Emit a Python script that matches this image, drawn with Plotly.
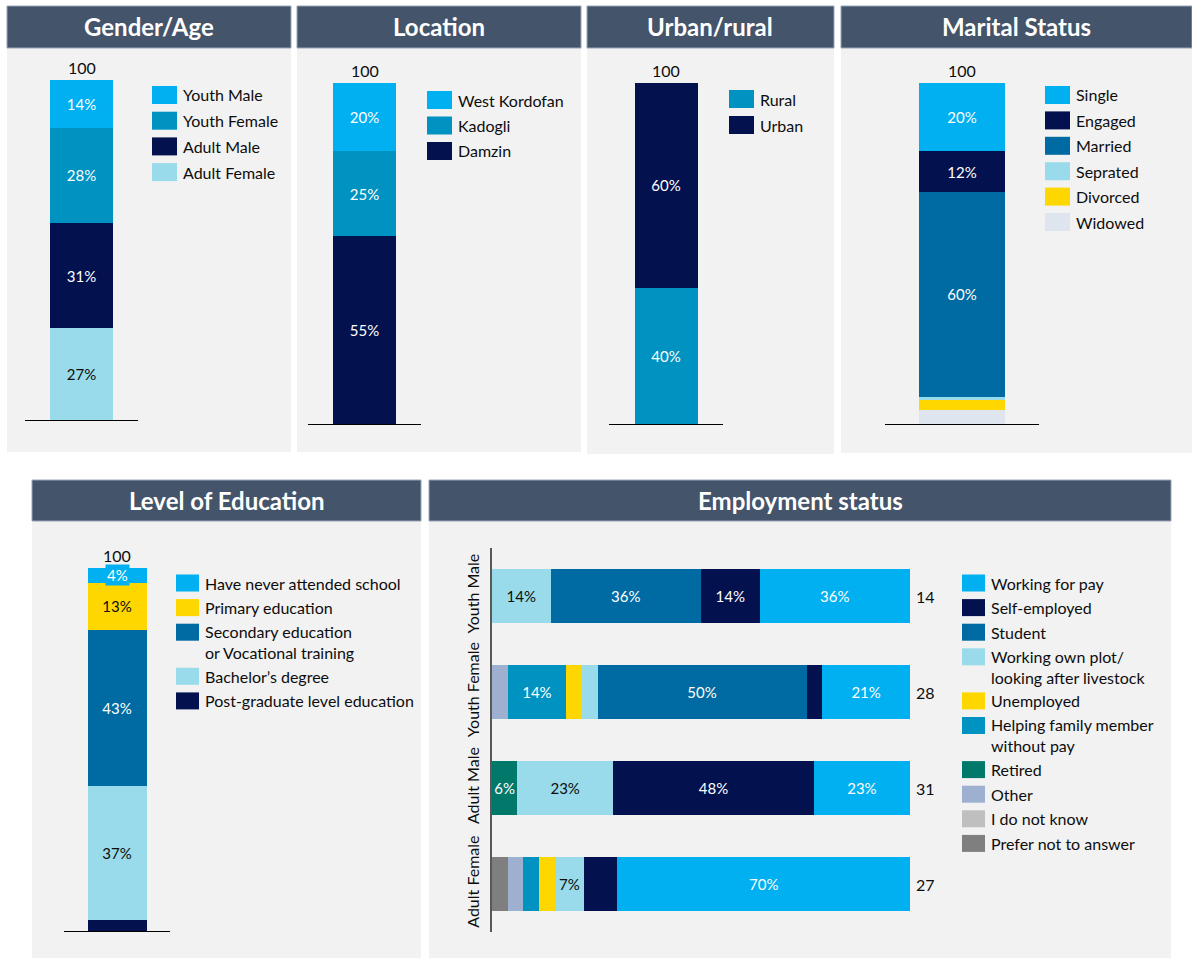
import plotly.graph_objects as go

# ---------------------------------------------------------------- data
gender_labels = ["Youth Male", "Youth Female", "Adult Male", "Adult Female"]
gender_values = [14, 28, 31, 27]

location_labels = ["West Kordofan", "Kadogli", "Damzin"]
location_values = [20, 25, 55]

area_labels = ["Rural", "Urban"]
area_values = [40, 60]

marital_labels = ["Single", "Engaged", "Married", "Seprated", "Divorced", "Widowed"]
marital_values = [20, 12, 60, 1, 3, 4]

education_labels = ["Have never attended school", "Primary education",
                    "Secondary education<br>or Vocational training",
                    "Bachelor’s degree", "Post-graduate level education"]
education_values = [4, 13, 43, 37, 3]

employment_groups = ["Youth Male", "Youth Female", "Adult Male", "Adult Female"]
employment_n = [14, 28, 31, 27]
# statuses in stacking order (left to right)
employment_status = ["Prefer not to answer", "I do not know", "Other", "Retired",
                     "Helping family member<br>without pay", "Unemployed",
                     "Working own plot/<br>looking after livestock", "Student",
                     "Self-employed", "Working for pay"]
employment_values = {
    "Prefer not to answer": [0, 0, 0, 3.75],
    "I do not know": [0, 0, 0, 0],
    "Other": [0, 3.75, 0, 3.75],
    "Retired": [0, 0, 6, 0],
    "Helping family member<br>without pay": [0, 14, 0, 3.75],
    "Unemployed": [0, 3.75, 0, 3.75],
    "Working own plot/<br>looking after livestock": [14, 3.75, 23, 7],
    "Student": [36, 50, 0, 0],
    "Self-employed": [14, 3.75, 48, 8],
    "Working for pay": [36, 21, 23, 70],
}
# segments that carry no percentage label
employment_unlabelled = {("Self-employed", "Adult Female")}

# ---------------------------------------------------------------- styling
W, H = 1192, 958
FONT = "Lato, 'Open Sans', sans-serif"
INK = "#0D0D0D"
HEADER = "#44546A"
BODY = "#F2F2F2"

SKY = "#00B0F0"
TEAL_BLUE = "#0092C0"
NAVY = "#03114F"
MID_BLUE = "#006AA3"
PALE_CYAN = "#99DBEA"
YELLOW = "#FFD700"
MIST = "#DEE5EF"
GREEN_TEAL = "#00796B"
LAVENDER = "#9DB0CF"
LIGHT_GREY = "#BFBFBF"
DARK_GREY = "#7F7F7F"

status_colors = {
    "Prefer not to answer": DARK_GREY,
    "I do not know": LIGHT_GREY,
    "Other": LAVENDER,
    "Retired": GREEN_TEAL,
    "Helping family member<br>without pay": TEAL_BLUE,
    "Unemployed": YELLOW,
    "Working own plot/<br>looking after livestock": PALE_CYAN,
    "Student": MID_BLUE,
    "Self-employed": NAVY,
    "Working for pay": SKY,
}
dark_text_fills = {PALE_CYAN, YELLOW, MIST, LIGHT_GREY}

LABEL_SIZE = 15
LEGEND_SIZE = 16


def fx(x):
    return x / W


def fy(y):
    return 1 - y / H


fig = go.Figure()
shapes = []
annotations = []
layout_axes = {}

# ---------------------------------------------------------------- panels
panels = [
    ("Gender/Age", 7, 291, 6, 48, 452),
    ("Location", 297, 581, 6, 48, 452),
    ("Urban/rural", 587, 834, 6, 48, 454),
    ("Marital Status", 841, 1192, 6, 48, 453),
    ("Level of Education", 32, 421, 480, 521, 958),
    ("Employment status", 429, 1171, 480, 521, 958),
]
for title, x0, x1, top, hb, bottom in panels:
    shapes.append(dict(type="rect", xref="paper", yref="paper", layer="below",
                       x0=fx(x0), x1=fx(x1), y0=fy(bottom), y1=fy(hb),
                       fillcolor=BODY, line=dict(width=0)))
    shapes.append(dict(type="rect", xref="paper", yref="paper", layer="below",
                       x0=fx(x0), x1=fx(x1), y0=fy(hb), y1=fy(top),
                       fillcolor=HEADER, line=dict(width=1, color="#9AA6B8")))
    annotations.append(dict(xref="paper", yref="paper", x=fx((x0 + x1) / 2),
                            y=fy((top + hb) / 2), xanchor="center", yanchor="middle",
                            text=f"<b>{title}</b>", showarrow=False,
                            font=dict(family=FONT, size=24, color="white")))


def add_legend(labels, colors, sx, y0, step, sw, sh, size=LEGEND_SIZE, line_h=19.5):
    y = y0
    for lab, col in zip(labels, colors):
        shapes.append(dict(type="rect", xref="paper", yref="paper",
                           x0=fx(sx), x1=fx(sx + sw), y0=fy(y + sh / 2), y1=fy(y - sh / 2),
                           fillcolor=col, line=dict(width=0)))
        n_lines = lab.count("<br>") + 1
        annotations.append(dict(xref="paper", yref="paper", x=fx(sx + sw + 4),
                                y=fy(y + (n_lines - 1) * line_h / 2),
                                xanchor="left", yanchor="middle", align="left",
                                text=lab, showarrow=False,
                                font=dict(family=FONT, size=size, color=INK)))
        y += step + (n_lines - 1) * line_h


def add_column(i, labels, values, colors, x_dom, y_dom, bar_px, label_min,
               legend, top_first=True):
    xa = "x" if i == 1 else f"x{i}"
    ya = "y" if i == 1 else f"y{i}"
    width = bar_px / (x_dom[1] - x_dom[0])
    seg_px = (y_dom[1] - y_dom[0]) / 100
    order = list(zip(labels, values, colors))
    if top_first:
        order = order[::-1]
    base = 0
    for lab, v, col in order:
        txt_col = INK if col in dark_text_fills else "white"
        show = v >= label_min
        small = v * seg_px < 20
        fig.add_trace(go.Bar(
            x=[0], y=[v], width=[width], name=lab, marker=dict(color=col, line=dict(width=0)),
            text=[f"{v:g}%" if show and not small else ""], textposition="inside",
            insidetextanchor="middle", textangle=0, constraintext="none",
            insidetextfont=dict(family=FONT, size=LABEL_SIZE, color=txt_col),
            xaxis=xa, yaxis=ya, showlegend=False, hoverinfo="skip"))
        if show and small:
            annotations.append(dict(xref=xa, yref=ya, x=0, y=base + v / 2,
                                    text=f"{v:g}%", showarrow=False, bgcolor=col,
                                    borderpad=1, xanchor="center", yanchor="middle",
                                    font=dict(family=FONT, size=LABEL_SIZE, color=txt_col)))
        base += v
    annotations.append(dict(xref=xa, yref=ya, x=0, y=base, text=f"{base:g}",
                            showarrow=False, xanchor="center", yanchor="bottom", yshift=1,
                            font=dict(family=FONT, size=16, color=INK)))
    layout_axes["xaxis" if i == 1 else f"xaxis{i}"] = dict(
        domain=[fx(x_dom[0]), fx(x_dom[1])], range=[-0.5, 0.5], anchor=ya,
        showline=True, linecolor="#000000", linewidth=1.2, showgrid=False,
        zeroline=False, showticklabels=False, ticks="", fixedrange=True)
    layout_axes["yaxis" if i == 1 else f"yaxis{i}"] = dict(
        domain=[fy(y_dom[1]), fy(y_dom[0])], range=[0, 100], anchor=xa,
        visible=False, fixedrange=True)
    add_legend(labels, colors, *legend)


# ---------------------------------------------------------------- single columns
add_column(1, gender_labels, gender_values, [SKY, TEAL_BLUE, NAVY, PALE_CYAN],
           (25, 138), (80, 420), 63, 5, (152, 95, 25.7, 25, 18))
add_column(2, location_labels, location_values, [SKY, TEAL_BLUE, NAVY],
           (308, 421), (83, 424), 63, 5, (427, 100, 25.5, 25, 18))
add_column(3, area_labels, area_values, [TEAL_BLUE, NAVY],
           (609, 723), (83, 424), 63, 5, (729, 99, 26, 25, 18), top_first=False)
add_column(4, marital_labels, marital_values,
           [SKY, NAVY, MID_BLUE, PALE_CYAN, YELLOW, MIST],
           (885, 1039), (83, 424), 86, 10, (1045, 95, 25.4, 25, 18))
add_column(5, education_labels, education_values,
           [SKY, YELLOW, MID_BLUE, PALE_CYAN, NAVY],
           (64, 170), (568, 931), 59, 4, (176, 583, 24.6, 23, 17))

# ---------------------------------------------------------------- employment
for status in employment_status:
    vals = employment_values[status]
    col = status_colors[status]
    txt_col = INK if col in dark_text_fills else "white"
    texts = [f"{v:g}%" if v >= 6 and (status, g) not in employment_unlabelled else ""
             for v, g in zip(vals, employment_groups)]
    fig.add_trace(go.Bar(
        y=employment_groups, x=vals, orientation="h", width=0.5625, name=status,
        marker=dict(color=col, line=dict(width=0)),
        text=texts, textposition="inside",
        insidetextanchor="middle", textangle=0, constraintext="none",
        insidetextfont=dict(family=FONT, size=LABEL_SIZE, color=txt_col),
        xaxis="x6", yaxis="y6", showlegend=False, hoverinfo="skip"))

for g, n in zip(employment_groups, employment_n):
    annotations.append(dict(xref="x6", yref="y6", x=100, y=g, text=str(n),
                            showarrow=False, xanchor="left", yanchor="middle", xshift=4,
                            font=dict(family=FONT, size=16, color=INK)))

layout_axes["xaxis6"] = dict(domain=[fx(492), fx(910)], range=[0, 100], anchor="y6",
                             visible=False, fixedrange=True)
layout_axes["yaxis6"] = dict(domain=[fy(932), fy(548)], anchor="x6", type="category",
                             categoryorder="array", categoryarray=employment_groups,
                             range=[3.5, -0.5], showline=True, linecolor="#595959",
                             linewidth=1.5, ticks="", tickangle=-90, showgrid=False,
                             ticklabelstandoff=5,
                             tickfont=dict(family=FONT, size=16, color=INK),
                             fixedrange=True)

add_legend(employment_status[::-1], [status_colors[s] for s in employment_status[::-1]],
           962, 583, 24.6, 23, 17)

fig.update_layout(
    width=W, height=H, margin=dict(l=0, r=0, t=0, b=0),
    paper_bgcolor="white", plot_bgcolor="rgba(0,0,0,0)",
    barmode="stack", showlegend=False,
    font=dict(family=FONT, color=INK),
    shapes=shapes, annotations=annotations,
    **layout_axes,
)

fig.write_html("out.html")
